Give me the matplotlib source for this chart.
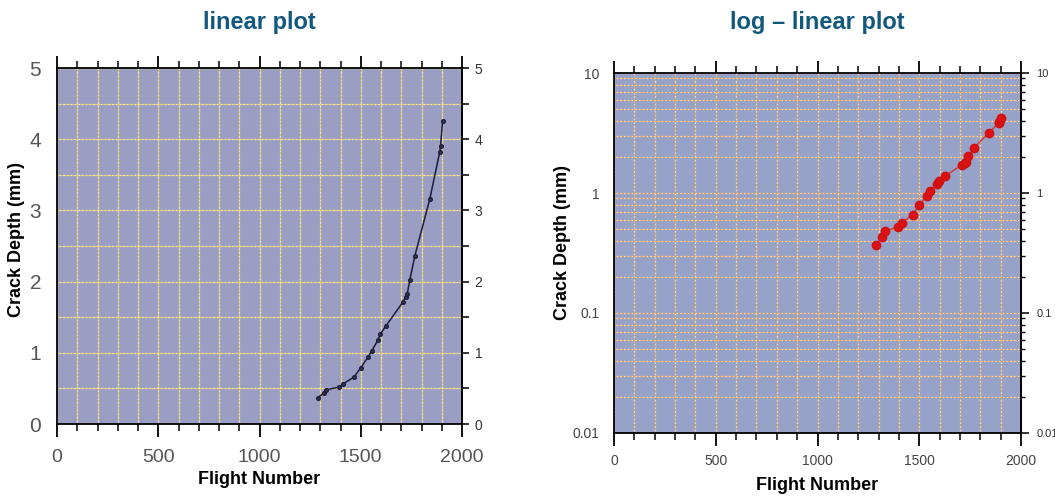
import matplotlib
matplotlib.use("Agg")
import matplotlib.pyplot as plt
from matplotlib import ticker

# ---- data ----
flight = [1287, 1317, 1330, 1394, 1414, 1467, 1500, 1536, 1555, 1585, 1596,
          1625, 1710, 1724, 1730, 1742, 1767, 1841, 1890, 1894, 1904]
depth = [0.37, 0.43, 0.48, 0.52, 0.565, 0.66, 0.79, 0.94, 1.03, 1.18, 1.26,
         1.38, 1.72, 1.79, 1.83, 2.02, 2.36, 3.16, 3.82, 3.90, 4.25]

titles = ["linear plot", "log \u2013 linear plot"]
xlabel = "Flight Number"
ylabel = "Crack Depth (mm)"

plt.rcParams['font.family'] = ['Liberation Sans', 'DejaVu Sans']

fig = plt.figure(figsize=(10.55, 4.97), dpi=100)
W, H = 1055, 497

def axes_px(x0, x1, ytop, ybot):
    return fig.add_axes([x0 / W, 1 - ybot / H, (x1 - x0) / W, (ybot - ytop) / H])

title_color = '#12587e'

# ================= linear plot =================
ax1 = axes_px(57, 462, 68, 424)
ax1.set_facecolor('#9a9ec2')
ax1.set_xlim(0, 2000)
ax1.set_ylim(0, 5)
ax1.xaxis.set_major_locator(ticker.MultipleLocator(500))
ax1.xaxis.set_minor_locator(ticker.MultipleLocator(100))
ax1.yaxis.set_major_locator(ticker.MultipleLocator(1))
ax1.yaxis.set_minor_locator(ticker.MultipleLocator(0.5))
ax1.grid(which='both', color='#f0cc3c', linestyle=(0, (1.5, 1.5)),
         gapcolor='#e4e4ee', linewidth=0.9)
ax1.set_axisbelow(True)
ax1.plot(flight, depth, color='#1c1c3a', linewidth=1.1, marker='o',
         markersize=2.6, markerfacecolor='#3a3a55', markeredgecolor='#1c1c3a',
         zorder=3)
ax1.tick_params(axis='x', which='both', direction='out', top=True, bottom=True,
                labeltop=False, colors='black', labelcolor='#555555',
                labelsize=14, pad=9)
ax1.tick_params(axis='x', which='major', length=9, width=1.3)
ax1.tick_params(axis='x', which='minor', length=5, width=1.1)
ax1.tick_params(axis='y', which='both', left=False, right=False,
                labelsize=15, labelcolor='#555555', pad=8)
for s in ax1.spines.values():
    s.set_linewidth(1.3)
    s.set_color('black')
ax1.xaxis.set_major_formatter(ticker.FuncFormatter(lambda v, _: f'{v:.0f}'))
sec1 = ax1.secondary_yaxis('right')
sec1.yaxis.set_major_locator(ticker.MultipleLocator(1))
sec1.yaxis.set_minor_locator(ticker.MultipleLocator(0.5))
sec1.tick_params(which='major', length=5, width=1.1, labelsize=10,
                 labelcolor='#333333', pad=4)
sec1.tick_params(which='minor', length=5, width=1.1)
sec1.spines['right'].set_linewidth(1.3)
ax1.set_xlabel(xlabel, fontsize=13, fontweight='bold')
ax1.set_ylabel(ylabel, fontsize=13, fontweight='bold')
ax1.xaxis.set_label_coords(0.5, -0.133)
ax1.yaxis.set_label_coords(-0.078, 0.517)
fig.text(259.5 / W, 1 - 23 / H, titles[0], ha='center', va='center',
         fontsize=17, fontweight='bold', color=title_color)

# ================= log-linear plot =================
ax2 = axes_px(614, 1021, 73, 433)
ax2.set_facecolor('#97a2c8')
ax2.set_xlim(0, 2000)
ax2.set_yscale('log')
ax2.set_ylim(0.01, 10)
ax2.xaxis.set_major_locator(ticker.MultipleLocator(500))
ax2.xaxis.set_minor_locator(ticker.MultipleLocator(100))
ax2.yaxis.set_major_locator(ticker.LogLocator(base=10, numticks=10))
ax2.yaxis.set_minor_locator(ticker.LogLocator(base=10, subs=range(2, 10), numticks=20))
ax2.yaxis.set_minor_formatter(ticker.NullFormatter())
ax2.yaxis.set_major_formatter(ticker.FuncFormatter(lambda v, _: f'{v:g}'))
ax2.grid(which='both', color='#f0a040', linestyle=(0, (1.5, 1.5)),
         gapcolor='#dcdcea', linewidth=0.9)
ax2.set_axisbelow(True)
ax2.plot(flight, depth, color='#d83030', linewidth=1.0, marker='o',
         markersize=6, markerfacecolor='#dd1111', markeredgecolor='#cc1111',
         zorder=3)
ax2.tick_params(axis='x', which='both', direction='out', top=True, bottom=True,
                labeltop=False, colors='black', labelcolor='#444444',
                labelsize=10, pad=6)
ax2.tick_params(axis='x', which='major', length=9, width=1.3)
ax2.tick_params(axis='x', which='minor', length=5, width=1.1)
ax2.tick_params(axis='y', which='both', left=False, right=False,
                labelsize=10, labelcolor='#444444', pad=7)
ax2.xaxis.set_major_formatter(ticker.FuncFormatter(lambda v, _: f'{v:.0f}'))
for s in ax2.spines.values():
    s.set_linewidth(1.3)
    s.set_color('black')
sec2 = ax2.secondary_yaxis('right')
sec2.yaxis.set_major_locator(ticker.LogLocator(base=10, numticks=10))
sec2.yaxis.set_minor_locator(ticker.LogLocator(base=10, subs=range(2, 10), numticks=20))
sec2.yaxis.set_minor_formatter(ticker.NullFormatter())
sec2.yaxis.set_major_formatter(ticker.FuncFormatter(lambda v, _: f'{v:g}'))
sec2.tick_params(which='major', length=6, width=1.1, labelsize=8,
                 labelcolor='#333333', pad=5)
sec2.tick_params(which='minor', length=3, width=1.0)
sec2.spines['right'].set_linewidth(1.3)
ax2.set_xlabel(xlabel, fontsize=13, fontweight='bold')
ax2.set_ylabel(ylabel, fontsize=13, fontweight='bold')
ax2.xaxis.set_label_coords(0.5, -0.122)
ax2.yaxis.set_label_coords(-0.106, 0.53)
fig.text(817 / W, 1 - 23 / H, titles[1], ha='center', va='center',
         fontsize=17, fontweight='bold', color=title_color)

fig.savefig('out.png', dpi=100)
